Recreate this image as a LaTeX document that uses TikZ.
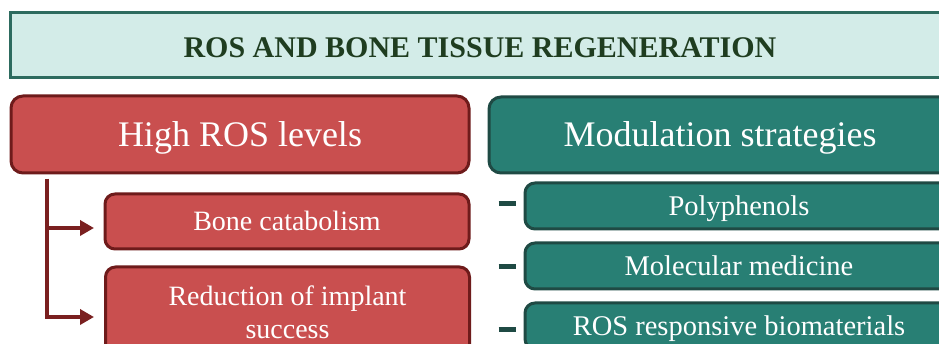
\documentclass[tikz,border=0pt]{standalone}
\usepackage{fontspec}
\setmainfont{Liberation Serif}
\usetikzlibrary{arrows.meta,calc}
\definecolor{titlefill}{HTML}{D3ECE8}
\definecolor{titledraw}{HTML}{2D6B5F}
\definecolor{titletext}{HTML}{1F3D20}
\definecolor{redfill}{HTML}{C94F4F}
\definecolor{reddraw}{HTML}{6E1B1B}
\definecolor{redarrow}{HTML}{7A2020}
\definecolor{tealfill}{HTML}{287F74}
\definecolor{tealdraw}{HTML}{1F4A44}
\tikzset{
  titlebox/.style={draw=titledraw, fill=titlefill, line width=3pt, minimum width=940pt, minimum height=65pt, inner sep=0pt, text=titletext, font=\fontsize{30}{34}\selectfont\bfseries, text height=25pt, text depth=0pt},
  redbig/.style={draw=reddraw, fill=redfill, line width=3pt, rounded corners=12pt, minimum width=458pt, minimum height=77pt, inner sep=0pt, text=white, font=\fontsize{36}{40}\selectfont, text height=23.8pt, text depth=0pt},
  tealbig/.style={draw=tealdraw, fill=tealfill, line width=3pt, rounded corners=12pt, minimum width=462pt, minimum height=76pt, inner sep=0pt, text=white, font=\fontsize{36}{40}\selectfont, text height=23.8pt, text depth=0pt},
  redsmall/.style={draw=reddraw, fill=redfill, line width=3pt, rounded corners=10pt, minimum width=364pt, inner sep=0pt, text=white, align=center, font=\fontsize{28}{33}\selectfont},
  tealsmall/.style={draw=tealdraw, fill=tealfill, line width=3pt, rounded corners=10pt, minimum width=428pt, minimum height=46pt, inner sep=0pt, text=white, font=\fontsize{28.5}{33}\selectfont, text height=18.8pt, text depth=0pt},
  arr/.style={draw=redarrow, line width=3.5pt, -{Triangle[length=14pt,width=15pt]}},
  dashbar/.style={draw=tealdraw, line width=5pt},
}
\begin{document}
\begin{tikzpicture}[x=1pt,y=-1pt]
\useasboundingbox (0,0) rectangle (939,344);
\clip (0,0) rectangle (939,344);
\fill[white] (0,0) rectangle (939,344);
\node[titlebox] (title) at (480,45.5) {ROS AND BONE TISSUE REGENERATION};
\node[redbig] (high) at (240,134.5) {High ROS levels};
\node[tealbig] (mod) at (720,135) {Modulation strategies};
\node[redsmall, minimum height=55pt, text height=18.5pt, text depth=0pt] (bone) at (287,221.5) {Bone catabolism};
\node[redsmall, minimum height=90pt] (impl) at (287.5,312) {Reduction of implant\\success};
\node[tealsmall] (poly) at (739,206) {Polyphenols};
\node[tealsmall] (molec) at (739,266) {Molecular medicine};
\node[tealsmall] (rosbio) at (739,326) {ROS responsive biomaterials};
% connectors
\coordinate (trunk) at (47,179);
\coordinate (tipA) at (94,228);
\coordinate (tipB) at (94,317);
\draw[arr] (trunk) |- (tipA);
\draw[arr] (trunk) |- (tipB);
% dashes
\draw[dashbar] ($(poly.west)+(-25,-2)$) -- ($(poly.west)+(-8,-2)$);
\draw[dashbar] ($(molec.west)+(-25,1)$) -- ($(molec.west)+(-8,1)$);
\draw[dashbar] ($(rosbio.west)+(-25,4)$) -- ($(rosbio.west)+(-8,4)$);
\end{tikzpicture}
\end{document}
